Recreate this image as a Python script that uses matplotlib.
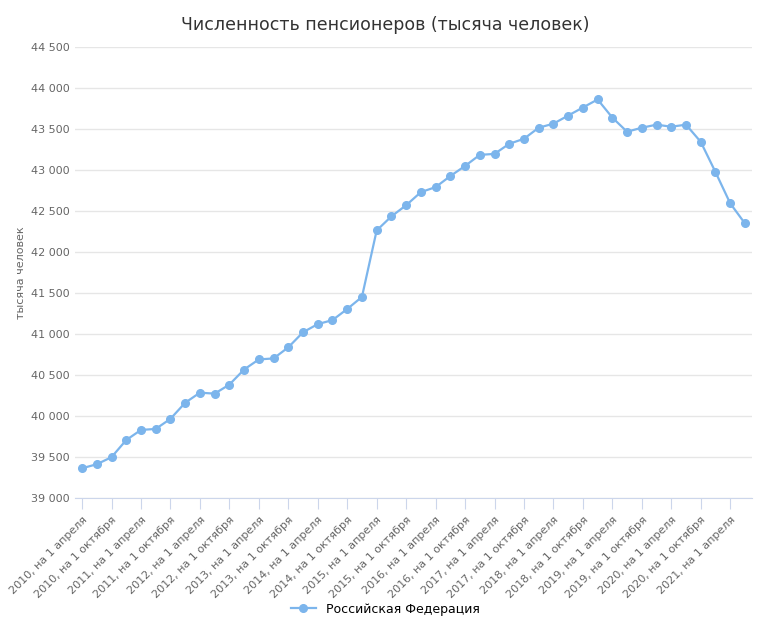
import matplotlib.pyplot as plt
import numpy as np

values = [39368, 39417, 39503, 39712, 39835, 39847, 39970, 40166, 40289, 40277,
          40387, 40571, 40694, 40706, 40841, 41025, 41124, 41173, 41308, 41455,
          42265, 42437, 42572, 42732, 42793, 42928, 43051, 43186, 43198, 43321,
          43382, 43517, 43566, 43665, 43763, 43861, 43640, 43468, 43517, 43554,
          43529, 43554, 43345, 42977, 42596, 42351]
months = ["апреля", "июля", "октября", "января"]
labels = []
for i in range(len(values)):
    q = i % 4
    year = 2010 + (i + 1) // 4
    labels.append(f"{year}, на 1 {months[q]}")

fig = plt.figure(figsize=(7.70, 6.27), dpi=100)
ax = fig.add_axes([0.097, 0.205, 0.88, 0.72])
x = np.arange(len(values))
ax.plot(x, values, color="#7cb5ec", lw=1.6, marker="o", ms=5.5,
        label="Российская Федерация")

ax.set_ylim(39000, 44500)
ax.set_yticks(np.arange(39000, 44501, 500))
ax.set_yticklabels([f"{v:,}".replace(",", " ") for v in range(39000, 44501, 500)],
                   fontsize=8, color="#666666")
ax.set_xlim(-0.5, len(values) - 0.5)
ticks = x[::2]
ax.set_xticks(ticks)
ax.set_xticklabels([labels[i] for i in ticks], rotation=45, ha="right",
                   rotation_mode="anchor", fontsize=8, color="#666666")
ax.set_xticks(np.arange(-0.5, len(values), 2) + 2.0 - 0.5 + 0.5 - 1, minor=False) if False else None
ax.tick_params(axis="y", length=0)
ax.tick_params(axis="x", length=8, color="#ccd6eb")
ax.grid(axis="y", color="#e6e6e6", lw=1)
for s in ["top", "right", "left"]:
    ax.spines[s].set_visible(False)
ax.spines["bottom"].set_color("#ccd6eb")
ax.set_ylabel("тысяча человек", fontsize=8, color="#666666")
fig.suptitle("Численность пенсионеров (тысяча человек)", fontsize=12.5,
             color="#333333", y=0.975)
fig.legend(loc="lower center", bbox_to_anchor=(0.5, 0.0), frameon=False,
           fontsize=9)
fig.savefig("out.png")
